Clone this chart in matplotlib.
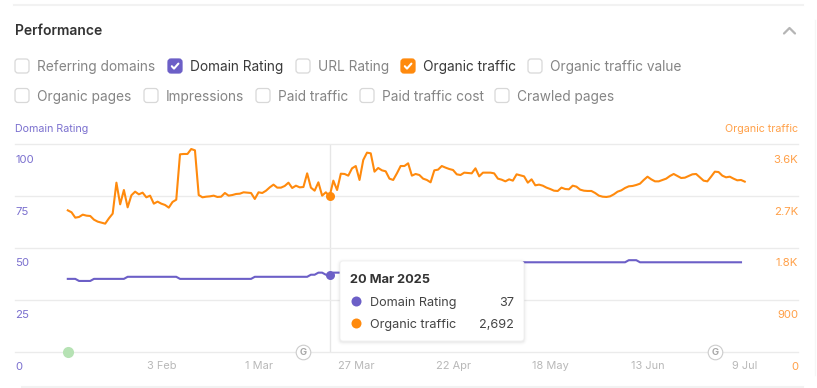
import numpy as np
import pandas as pd
import matplotlib
matplotlib.use('Agg')
import matplotlib.pyplot as plt
import matplotlib.dates as mdates
from matplotlib.patches import FancyBboxPatch, Circle

plt.rcParams['font.family'] = ['Inter', 'DejaVu Sans']

dates = pd.date_range('2025-01-09', '2025-07-09', freq='D')

domain_rating = [
    35, 35, 35, 34, 34, 34, 34, 35, 35, 35, 35, 35, 35, 35, 35, 35, 36, 36, 36, 36,
    36, 36, 36, 36, 36, 36, 36, 36, 36, 36, 35, 35, 35, 35, 35, 35, 35, 35, 35, 35,
    35, 35, 35, 35, 35, 35, 35, 35, 35, 35, 36, 36, 36, 36, 36, 36, 36, 36, 36, 36,
    36, 36, 36, 36, 36, 37, 37, 38, 38, 37, 37, 38, 38, 38, 38, 38, 38, 38, 38, 38,
    38, 39, 39, 39, 39, 40, 40, 40, 40, 41, 41, 41, 41, 42, 42, 42, 42, 42, 42, 42,
    43, 43, 43, 43, 43, 43, 43, 43, 43, 43, 43, 43, 43, 43, 43, 43, 43, 43, 43, 43,
    43, 43, 43, 43, 43, 43, 43, 43, 43, 43, 43, 43, 43, 43, 43, 43, 43, 43, 43, 43,
    43, 43, 43, 43, 43, 43, 43, 43, 43, 43, 44, 44, 44, 43, 43, 43, 43, 43, 43, 43,
    43, 43, 43, 43, 43, 43, 43, 43, 43, 43, 43, 43, 43, 43, 43, 43, 43, 43, 43, 43,
    43,
]

organic_traffic = [
    2449, 2415, 2322, 2334, 2374, 2357, 2351, 2287, 2253, 2235, 2218, 2311, 2392, 2929,
    2553, 2802, 2501, 2710, 2773, 2727, 2756, 2675, 2704, 2565, 2600, 2565, 2542, 2496,
    2594, 2634, 3421, 3427, 3427, 3513, 3490, 2715, 2675, 2686, 2692, 2704, 2681, 2686,
    2750, 2704, 2715, 2733, 2738, 2762, 2756, 2750, 2646, 2762, 2750, 2790, 2848, 2895,
    2843, 2843, 2872, 2929, 2837, 2877, 2848, 2854, 3091, 2843, 2790, 2935, 2704, 2762,
    2692, 2964, 2802, 3085, 3080, 3051, 3178, 3218, 2976, 3323, 3450, 3438, 3120, 3184,
    3143, 3126, 2999, 2976, 3091, 3218, 3218, 3265, 3051, 3080, 3062, 2999, 2976, 2935,
    3143, 3155, 3218, 3190, 3166, 3149, 3074, 3062, 3103, 3097, 3091, 3178, 3039, 3103,
    3103, 3103, 3091, 2999, 2981, 2952, 2987, 2964, 3074, 3056, 3039, 2929, 2987, 2883,
    2895, 2877, 2843, 2819, 2790, 2785, 2843, 2819, 2814, 2877, 2860, 2808, 2790, 2785,
    2785, 2750, 2704, 2686, 2681, 2692, 2727, 2773, 2796, 2837, 2866, 2872, 2889, 2912,
    2976, 3033, 2987, 2952, 2952, 2976, 2999, 3045, 3080, 3045, 3010, 3016, 3045, 3074,
    3080, 3022, 2964, 2952, 3033, 3120, 3114, 3051, 3022, 3033, 2999, 2970, 2976, 2947,
]

x_tick_dates = ['2025-02-03', '2025-03-01', '2025-03-27', '2025-04-22', '2025-05-18', '2025-06-13', '2025-07-09']
x_tick_labels = ['3 Feb', '1 Mar', '27 Mar', '22 Apr', '18 May', '13 Jun', '9 Jul']
left_ticks = [100, 75, 50, 25, 0]
right_ticks = [3600, 2700, 1800, 900, 0]
right_labels = ['3.6K', '2.7K', '1.8K', '900', '0']

hover_date = '2025-03-20'
hover_rating = 37
hover_traffic = 2692
update_dates = ['2025-03-13', '2025-07-01']
start_date = '2025-01-09'

row1 = ['Referring domains', 'Domain Rating', 'URL Rating', 'Organic traffic', 'Organic traffic value']
row2 = ['Organic pages', 'Impressions', 'Paid traffic', 'Paid traffic cost', 'Crawled pages']
row1_x = [15, 168, 296, 401, 528]
row2_x = [15, 144, 256, 360, 495]

PURPLE = '#6c5fc7'
ORANGE = '#ff8a0d'
PURPLE_TXT = '#7b70cf'
ORANGE_TXT = '#ffa048'
GRID = '#ebebeb'
W, H = 817, 388

fig = plt.figure(figsize=(W / 100, H / 100), dpi=100, facecolor='white')

# chart area in pixels: x 15-798, y 144-351.5
ax = fig.add_axes([15 / W, 1 - 351.5 / H, 783 / W, 207.5 / H])
ax2 = ax.twinx()
for a in (ax, ax2):
    for s in a.spines.values():
        s.set_visible(False)
    a.patch.set_visible(False)

d0 = mdates.date2num(pd.Timestamp(start_date))
ax.set_xlim(d0 - 52.8 / 3.74, d0 + 730.2 / 3.74)
ax.set_ylim(0, 100)
ax2.set_ylim(0, 3600)

ax.set_yticks(left_ticks)
ax.set_yticklabels([])
ax2.set_yticks(right_ticks)
ax2.set_yticklabels([])
ax.tick_params(axis='y', length=0)
ax2.tick_params(axis='y', length=0)
ax.grid(axis='y', color=GRID, lw=1)
for line in ax.get_ygridlines():
    line.set_clip_on(False)
ax.set_xticks(pd.to_datetime(x_tick_dates))
ax.set_xticklabels(x_tick_labels, fontsize=7.9, color='#b8b8b8')
ax.tick_params(axis='x', length=0, pad=6.5)

for v in left_ticks:
    ax.annotate(str(v), (0, v), xycoords=ax.get_yaxis_transform(), xytext=(0, -11.3),
                textcoords='offset points', ha='left', va='center', fontsize=8.2, color=PURPLE_TXT)
for v, lab in zip(right_ticks, right_labels):
    ax2.annotate(lab, (1, v), xycoords=ax2.get_yaxis_transform(), xytext=(0, -11.3),
                 textcoords='offset points', ha='right', va='center', fontsize=8.2, color=ORANGE_TXT)

hover = pd.Timestamp(hover_date)
ax.axvline(hover, color='#e6e6e6', lw=1, zorder=1)

ax.plot(dates[:len(domain_rating)], domain_rating, color=PURPLE, lw=1.5, solid_joinstyle='round', zorder=3)
ax2.plot(dates, organic_traffic, color=ORANGE, lw=1.5, solid_joinstyle='round', zorder=3)
ax.plot([hover], [hover_rating], 'o', color=PURPLE, ms=6.5, mew=0, zorder=4)
ax2.plot([hover], [hover_traffic], 'o', color=ORANGE, ms=6.5, mew=0, zorder=4)

ax2.plot([pd.Timestamp(start_date)], [0], 'o', color='#b6e2b4', ms=8, mew=0, clip_on=False, zorder=4)
for d in update_dates:
    ax2.plot([pd.Timestamp(d)], [0], 'o', mfc='white', mec='#cccccc', mew=0.8, ms=10.5, clip_on=False, zorder=4)
    ax2.annotate('G', (pd.Timestamp(d), 0), ha='center', va='center_baseline', fontsize=6.8,
                 fontweight='bold', color='#a8a8a8', annotation_clip=False, zorder=5)

# page furniture drawn in pixel coords
ui = fig.add_axes([0, 0, 1, 1], facecolor='none')
ui.set_xlim(0, W)
ui.set_ylim(H, 0)
ui.axis('off')

ui.plot([14, 803], [5, 5], color='#f2f2f2', lw=1.5)
ui.plot([22, 803], [386.5, 386.5], color='#f2f2f2', lw=1.5)
ui.plot([815, 815], [20, 375], color='#f6f6f6', lw=1)
ui.text(15, 31, 'Performance', fontsize=10, fontweight='semibold', color='#333333', va='center')
ui.plot([784, 789.5, 795], [33.5, 28, 33.5], color='#b5b5b5', lw=1.6, solid_capstyle='round')


def checkbox(x, y, label, color=None):
    if color is None:
        ui.add_patch(FancyBboxPatch((x + 3, y + 3), 8, 8, boxstyle='round,pad=3,rounding_size=3',
                                    fc='white', ec='#d8d8d8', lw=0.9))
        tc = '#858585'
    else:
        ui.add_patch(FancyBboxPatch((x + 3, y + 3), 8, 8, boxstyle='round,pad=3,rounding_size=3',
                                    fc=color, ec=color, lw=0.9))
        ui.plot([x + 3.8, x + 6, x + 10.4], [y + 7.2, y + 9.6, y + 4.6], color='white', lw=1.5,
                solid_capstyle='round', solid_joinstyle='round')
        tc = '#3a3a3a'
    ui.text(x + 22, y + 6.6, label, fontsize=9.85, color=tc, va='center_baseline')


for x, lab in zip(row1_x, row1):
    c = PURPLE if lab == 'Domain Rating' else ORANGE if lab == 'Organic traffic' else None
    checkbox(x, 59, lab, c)
for x, lab in zip(row2_x, row2):
    checkbox(x, 88.5, lab)

ui.text(15, 128.5, 'Domain Rating', fontsize=7.7, color=PURPLE_TXT, va='center')
ui.text(798.5, 128.5, 'Organic traffic', fontsize=7.7, color=ORANGE_TXT, va='center', ha='right')

# tooltip with soft shadow
for grow, alpha in zip([3.5, 2.5, 1.5, 0.7], [0.008, 0.014, 0.02, 0.03]):
    ui.add_patch(FancyBboxPatch((343, 264 + 1), 178, 74, boxstyle=f'round,pad={3 + grow},rounding_size={3 + grow}',
                                fc='black', ec='none', alpha=alpha, zorder=10))
ui.add_patch(FancyBboxPatch((343, 264), 178, 74, boxstyle='round,pad=3,rounding_size=3',
                            fc='white', ec='#f0f0f0', lw=0.6, zorder=11))
ui.text(350, 280, pd.Timestamp(hover_date).strftime('%-d %b %Y'), fontsize=9.2, fontweight='bold',
        color='#333333', va='center', zorder=12)
tip_rows = [('Domain Rating', PURPLE, f'{hover_rating}', 301.5), ('Organic traffic', ORANGE, f'{hover_traffic:,}', 323.5)]
for lab, col, val, y in tip_rows:
    ui.add_patch(Circle((356.5, y), 5, fc=col, ec='none', zorder=12))
    ui.text(370, y, lab, fontsize=9.1, color='#444444', va='center_baseline', zorder=12)
    ui.text(514, y, val, fontsize=9.1, color='#444444', va='center_baseline', ha='right', zorder=12)

fig.savefig('out.png', dpi=100)
